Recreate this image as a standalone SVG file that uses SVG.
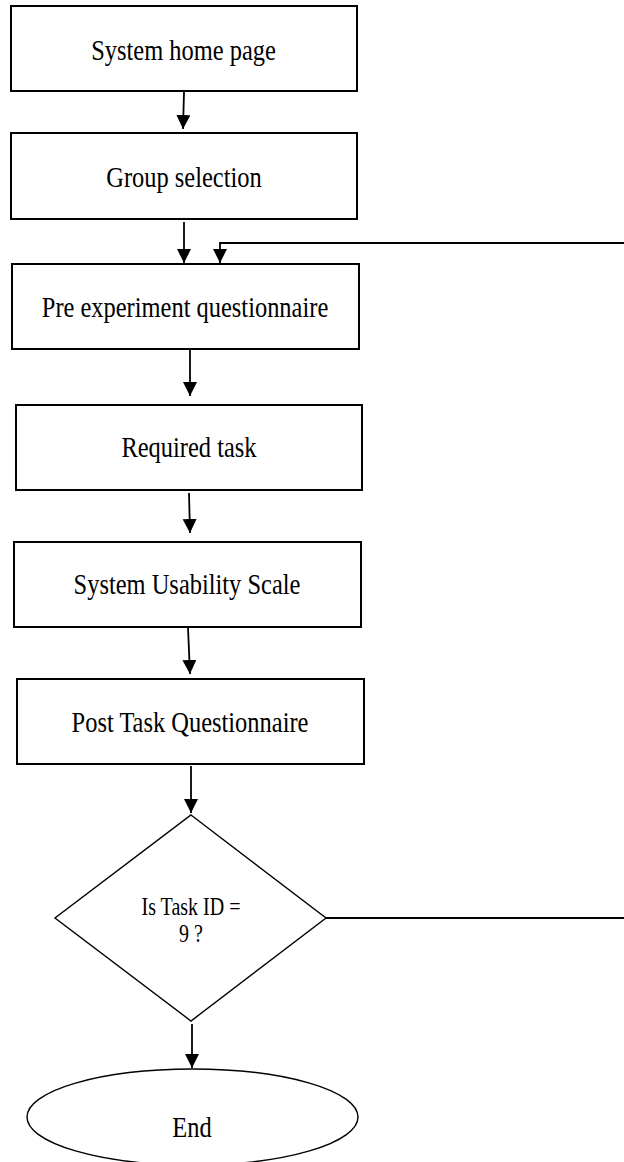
<svg xmlns="http://www.w3.org/2000/svg" width="624" height="1162" viewBox="0 0 624 1162">
<style>
.box{fill:#fff;stroke:#000;stroke-width:2}
.shape{fill:#fff;stroke:#000;stroke-width:1.4}
text{font-family:'Liberation Serif','Times New Roman',serif;font-size:30px;fill:#000;text-anchor:middle}
.small{font-size:25px}
.con{fill:none;stroke:#000;stroke-width:1.8}
</style>
<defs>
<marker id="ah" markerUnits="userSpaceOnUse" markerWidth="15" markerHeight="15" refX="14" refY="7" orient="auto">
<path d="M0,0 L14,7 L0,14 z" fill="#000"/>
</marker>
</defs>
<rect width="624" height="1162" fill="#fff"/>
<g id="connectors">
<path class="con" d="M184,92 L183,129" marker-end="url(#ah)"/>
<path class="con" d="M184,222 L184,263" marker-end="url(#ah)"/>
<path class="con" d="M624,243 H220 V263" marker-end="url(#ah)"/>
<path class="con" d="M190,350 L190,396" marker-end="url(#ah)"/>
<path class="con" d="M189,493 L190,533" marker-end="url(#ah)"/>
<path class="con" d="M188,628 L190,674" marker-end="url(#ah)"/>
<path class="con" d="M191,766 L191,813" marker-end="url(#ah)"/>
<path class="con" d="M192,1024 L192,1068" marker-end="url(#ah)"/>
<path class="con" d="M326,918 H624" stroke-width="1.5"/>
</g>
<g id="home">
<rect class="box" x="11" y="6" width="346" height="85"/>
<text transform="translate(183.5,60) scale(0.815,1)">System home page</text>
</g>
<g id="group">
<rect class="box" x="11" y="133" width="346" height="86"/>
<text transform="translate(184,187) scale(0.815,1)">Group selection</text>
</g>
<g id="pre">
<rect class="box" x="12" y="264" width="347" height="85"/>
<text transform="translate(185,317) scale(0.815,1)">Pre experiment questionnaire</text>
</g>
<g id="task">
<rect class="box" x="16" y="405" width="346" height="85"/>
<text transform="translate(189,457) scale(0.815,1)">Required task</text>
</g>
<g id="sus">
<rect class="box" x="14" y="542" width="347" height="85"/>
<text transform="translate(187,594) scale(0.815,1)">System Usability Scale</text>
</g>
<g id="post">
<rect class="box" x="17" y="679" width="347" height="85"/>
<text transform="translate(190,732) scale(0.815,1)">Post Task Questionnaire</text>
</g>
<g id="decision">
<polygon class="shape" points="191,815 326,918 191,1021 55,918"/>
<text class="small" transform="translate(191,915) scale(0.8,1)">Is Task ID =</text>
<text class="small" transform="translate(191,942) scale(0.8,1)">9 ?</text>
</g>
<g id="end">
<ellipse class="shape" cx="192.5" cy="1117" rx="165.5" ry="48"/>
<text transform="translate(192,1137) scale(0.815,1)">End</text>
</g>
</svg>
